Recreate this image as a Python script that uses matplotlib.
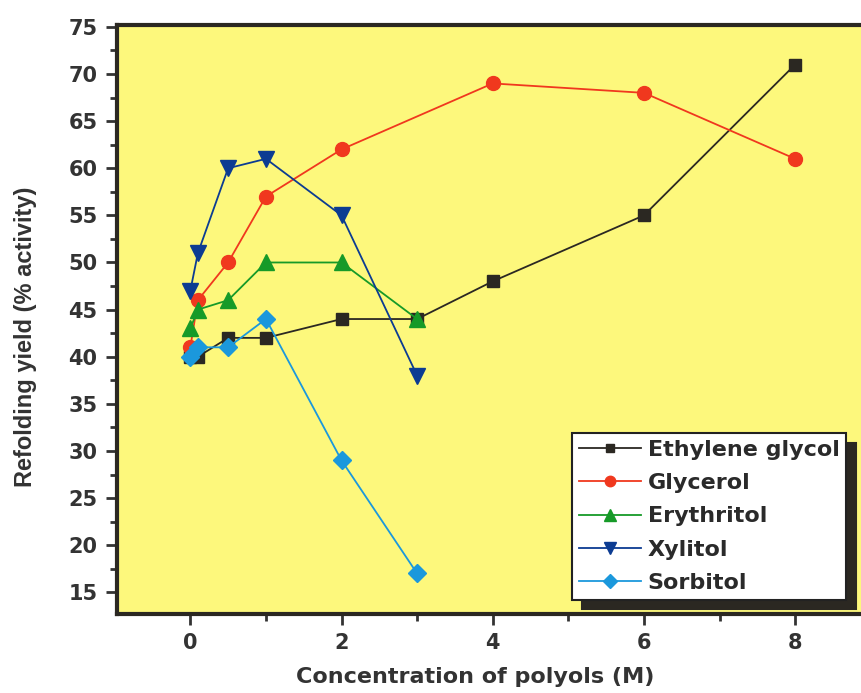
import matplotlib.pyplot as plt
from matplotlib.ticker import MultipleLocator

plt.rcParams['font.family'] = ['DejaVu Sans']
plt.rcParams['font.weight'] = 'bold'

# data
x_eg = [0, 0.1, 0.5, 1, 2, 3, 4, 6, 8]
y_eg = [40, 40, 42, 42, 44, 44, 48, 55, 71]
x_gly = [0, 0.1, 0.5, 1, 2, 4, 6, 8]
y_gly = [41, 46, 50, 57, 62, 69, 68, 61]
x_ery = [0, 0.1, 0.5, 1, 2, 3]
y_ery = [43, 45, 46, 50, 50, 44]
x_xyl = [0, 0.1, 0.5, 1, 2, 3]
y_xyl = [47, 51, 60, 61, 55, 38]
x_sor = [0, 0.1, 0.5, 1, 2, 3]
y_sor = [40, 41, 41, 44, 29, 17]

fig = plt.figure(figsize=(8.61, 6.93), dpi=100)
# axes runs a bit past the right edge, like the cropped original
ax = fig.add_axes([117/861, 1 - 614/693, 756/861, 589/693])
ax.set_facecolor('#fdf87c')

ax.plot(x_eg, y_eg, '-s', color='#2b2822', ms=8, lw=1.3, label='Ethylene glycol')
ax.plot(x_gly, y_gly, '-o', color='#f0381e', ms=10, lw=1.3, label='Glycerol')
ax.plot(x_ery, y_ery, '-^', color='#169a28', ms=11, lw=1.3, label='Erythritol')
ax.plot(x_xyl, y_xyl, '-v', color='#0c3c92', ms=11, lw=1.3, label='Xylitol')
ax.plot(x_sor, y_sor, '-D', color='#1b98dc', ms=9, lw=1.3, label='Sorbitol')

ax.set_xlim(-0.97, 9.03)
ax.set_ylim(12.7, 75.2)
ax.xaxis.set_major_locator(MultipleLocator(2))
ax.xaxis.set_minor_locator(MultipleLocator(1))
ax.yaxis.set_major_locator(MultipleLocator(5))
ax.yaxis.set_minor_locator(MultipleLocator(2.5))
ax.tick_params(which='major', direction='out', length=8, width=2, labelsize=15,
               colors='#333333', pad=6)
ax.tick_params(which='minor', direction='out', length=5, width=2, colors='#333333')
for s in ax.spines.values():
    s.set_linewidth(3)
    s.set_color('#2b2822')

fig.text(475/861, 1 - 677/693, 'Concentration of polyols (M)', ha='center', va='center',
         fontsize=16, color='#333333', weight='bold')
fig.text(26/861, 1 - 337/693, 'Refolding yield (% activity)', ha='center', va='center',
         rotation=90, fontsize=17, color='#333333', weight='bold', family='Liberation Sans')

leg = ax.legend(loc='upper left', bbox_to_anchor=(572/861, 1 - 433/693),
                bbox_transform=fig.transFigure, fontsize=16, frameon=True, fancybox=False,
                edgecolor='#222222', framealpha=1, borderpad=0.3, labelspacing=0.6,
                handlelength=2.8, handletextpad=0.3, borderaxespad=0, markerscale=0.75,
                shadow={'ox': 7, 'oy': -7, 'color': '#2b2822', 'alpha': 1})
leg.get_frame().set_linewidth(1.5)
for t in leg.get_texts():
    t.set_color('#2a2a2a')

plt.savefig('out.png', dpi=100)
